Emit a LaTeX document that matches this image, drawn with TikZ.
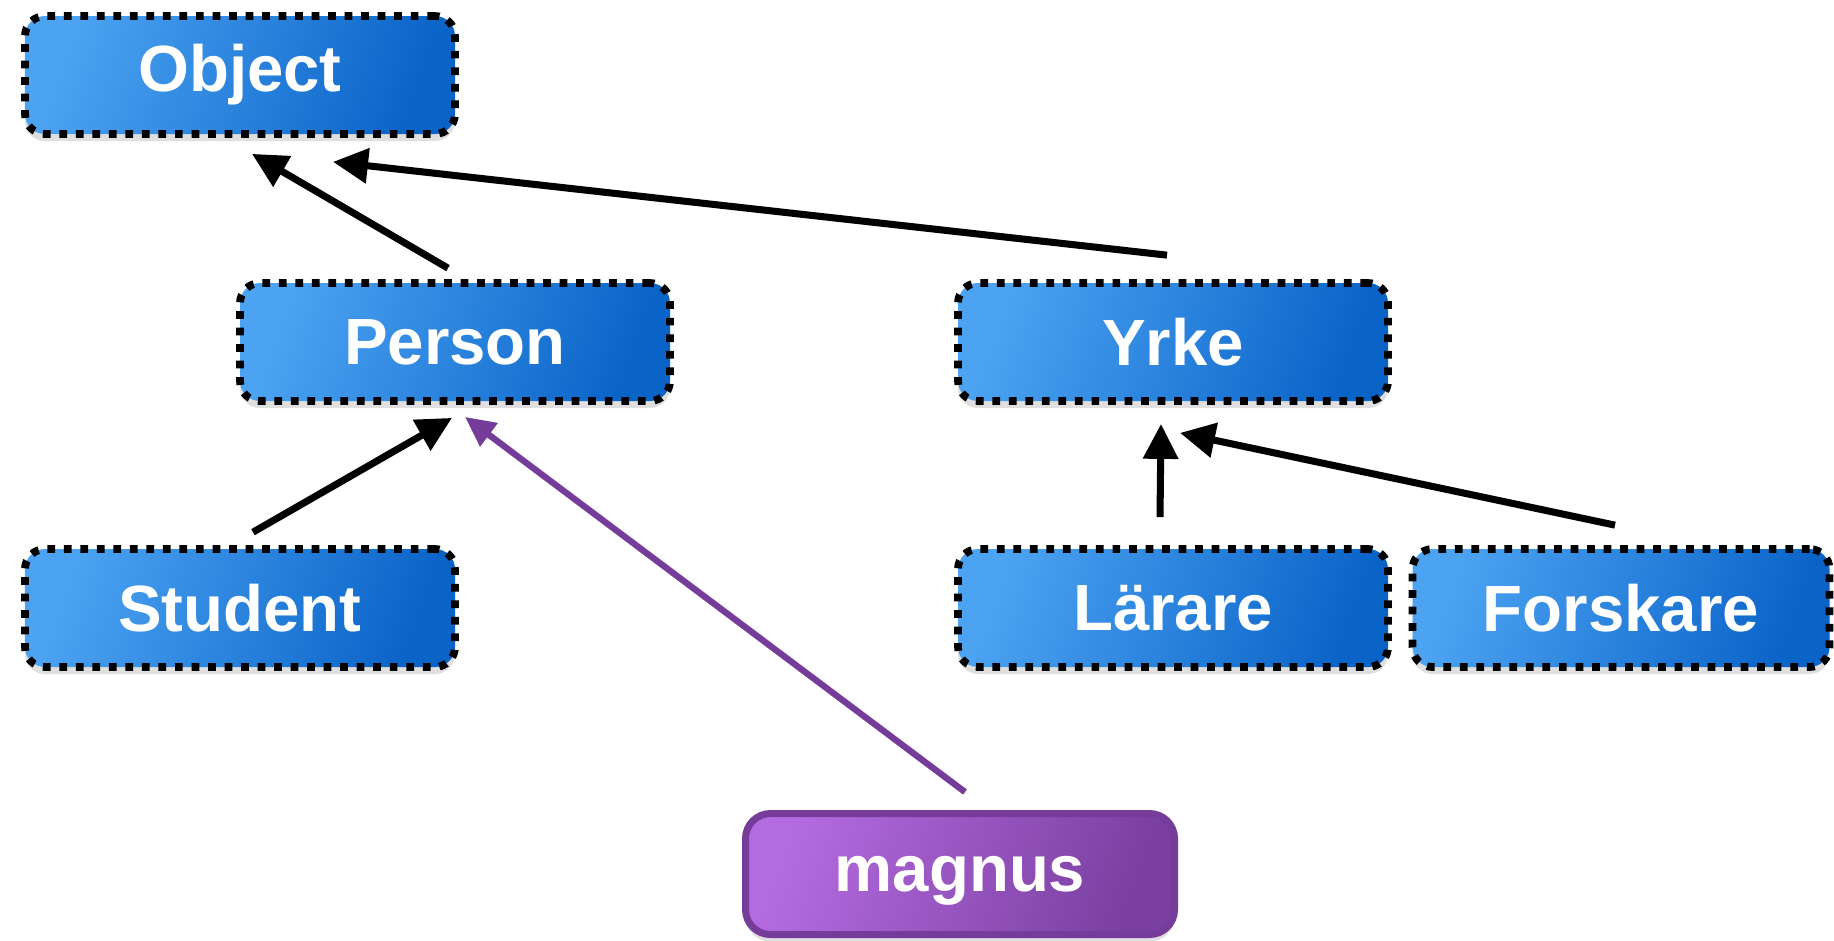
\documentclass[tikz,border=0pt]{standalone}
\usepackage{fontspec}
\setmainfont{Liberation Sans}
\usetikzlibrary{arrows.meta,shadows}

\definecolor{boxlight}{RGB}{76,163,242}
\definecolor{boxdark}{RGB}{10,100,200}
\definecolor{objlight}{RGB}{180,107,224}
\definecolor{objdark}{RGB}{122,63,160}
\definecolor{objborder}{RGB}{118,60,154}

\tikzset{
  classbox/.style={draw=black, line width=2.2pt, dash pattern=on 2.2pt off 2.5pt,
    rounded corners=0.2cm, minimum width=4.30cm, minimum height=1.18cm,
    left color=boxlight, right color=boxdark, shading angle=70,
    drop shadow={shadow xshift=0pt, shadow yshift=-2pt, opacity=0.25},
    text=white, font=\bfseries\fontsize{18.6}{22}\selectfont},
  instbox/.style={draw=objborder, line width=2pt,
    rounded corners=0.25cm, minimum width=4.29cm, minimum height=1.21cm,
    left color=objlight, right color=objdark, shading angle=70,
    drop shadow={shadow xshift=0pt, shadow yshift=-2pt, opacity=0.25},
    text depth=0pt,
    text=white, font=\bfseries\fontsize{18.6}{22}\selectfont},
  arr/.style={line width=2pt, -{Triangle[length=0.35cm,width=0.34cm]}},
  instarr/.style={objborder, line width=1.8pt, -{Triangle[length=0.30cm,width=0.28cm]}}
}

\begin{document}
\begin{tikzpicture}
  \useasboundingbox (0,0) rectangle (18.34,-9.40);

  % Classes
  \node[classbox] (object) at (2.40,-0.75) {Object};
  \node[classbox] (person) at (4.55,-3.42) {Person};
  \node[classbox] (yrke) at (11.73,-3.42) {Yrke};
  \node[classbox] (student) at (2.40,-6.08) {Student};
  \node[classbox] (larare) at (11.73,-6.08) {Lärare};
  \node[classbox, minimum width=4.17cm] (forskare) at (16.21,-6.08) {Forskare};

  % Instance
  \node[instbox] (magnus) at (9.60,-8.74) {magnus};

  % Inheritance arrows
  \draw[arr] ([xshift=-0.07cm,yshift=0.11cm]person.north) -- ([xshift=0.12cm,yshift=-0.16cm]object.south);
  \draw[arr] ([xshift=-0.06cm,yshift=0.24cm]yrke.north) -- ([xshift=0.93cm,yshift=-0.24cm]object.south);
  \draw[arr] ([xshift=0.13cm,yshift=0.13cm]student.north) -- ([xshift=-0.03cm,yshift=-0.13cm]person.south);
  \draw[arr] ([xshift=-0.13cm,yshift=0.28cm]larare.north) -- ([xshift=-0.12cm,yshift=-0.19cm]yrke.south);
  \draw[arr] ([xshift=-0.06cm,yshift=0.20cm]forskare.north) -- ([xshift=0.07cm,yshift=-0.28cm]yrke.south);

  % Instance of
  \draw[instarr] ([xshift=0.05cm,yshift=0.18cm]magnus.north) -- ([xshift=0.10cm,yshift=-0.12cm]person.south);

\end{tikzpicture}
\end{document}
